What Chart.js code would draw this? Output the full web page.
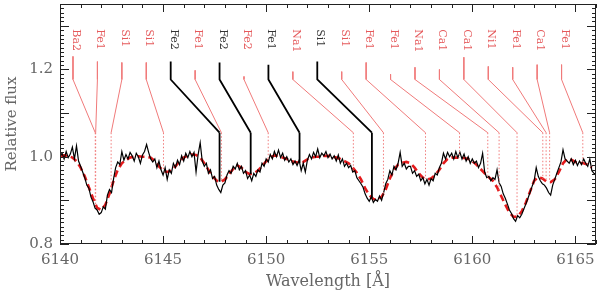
<!DOCTYPE html>
<html>
<head>
<meta charset="utf-8">
<script src="https://cdn.jsdelivr.net/npm/chart.js@4"></script>
<style>
  body { margin: 0; background: #fff; }
  canvas { display: block; }
</style>
</head>
<body>
<canvas id="chart" width="600" height="291"></canvas>
<script>
// observed spectrum, 0.1 A steps from 6140.0
const obsStart = 6140.0, obsStep = 0.1;
const obsFlux = [
  1.000, 1.008, 0.995, 1.012, 0.998, 1.006, 1.022, 0.995, 1.025, 0.990,
  0.978, 0.965, 0.952, 0.935, 0.928, 0.908, 0.897, 0.882, 0.878, 0.868,
  0.872, 0.885, 0.880, 0.912, 0.925, 0.918, 0.950, 0.975, 0.988, 0.982,
  1.012, 0.992, 1.005, 0.995, 1.010, 1.002, 0.990, 1.008, 1.000, 0.985,
  1.004, 1.012, 1.028, 1.010, 0.995, 0.988, 0.995, 0.975, 0.990, 0.970,
  0.958, 0.975, 0.948, 0.970, 0.962, 0.985, 0.975, 0.992, 0.982, 1.002,
  0.990, 1.008, 0.998, 1.012, 1.000, 1.010, 0.965, 1.005, 1.032, 0.990,
  0.978, 0.985, 0.962, 0.970, 0.950, 0.955, 0.935, 0.925, 0.918, 0.935,
  0.940, 0.958, 0.968, 0.962, 0.978, 0.972, 0.985, 0.970, 0.978, 0.962,
  0.968, 0.950, 0.958, 0.945, 0.962, 0.955, 0.970, 0.965, 0.985, 0.978,
  0.995, 0.988, 1.005, 0.995, 1.012, 1.000, 1.015, 0.998, 1.008, 0.992,
  1.000, 0.988, 0.995, 0.982, 0.990, 0.980, 0.992, 0.968, 0.985, 0.965,
  0.992, 1.005, 0.995, 1.010, 1.000, 1.018, 0.998, 1.008, 1.002, 1.012,
  0.998, 1.006, 0.995, 1.002, 0.990, 1.004, 0.985, 0.995, 0.978, 0.985,
  0.975, 0.980, 0.965, 0.968, 0.952, 0.945, 0.938, 0.930, 0.915, 0.905,
  0.898, 0.908, 0.895, 0.902, 0.898, 0.910, 0.900, 0.918, 0.938, 0.948,
  0.968, 0.958, 0.978, 0.970, 0.985, 1.010, 0.978, 0.985, 0.972, 0.978,
  0.978, 0.962, 0.968, 0.955, 0.960, 0.945, 0.952, 0.938, 0.948, 0.935,
  0.950, 0.945, 0.962, 0.958, 0.975, 0.985, 1.008, 0.995, 1.010, 1.000,
  1.008, 0.995, 1.012, 0.998, 1.010, 0.995, 1.006, 0.990, 1.000, 0.985,
  0.995, 0.985, 0.990, 0.975, 0.985, 1.008, 0.965, 0.952, 0.955, 0.945,
  0.952, 0.948, 0.970, 0.940, 0.932, 0.915, 0.905, 0.892, 0.878, 0.870,
  0.858, 0.852, 0.865, 0.860, 0.868, 0.880, 0.892, 0.905, 0.918, 0.932,
  0.945, 0.975, 0.955, 0.945, 0.938, 0.935, 0.928, 0.918, 0.912, 0.935,
  0.948, 0.962, 0.975, 0.988, 1.016, 0.995, 0.990, 0.985, 0.995, 0.982,
  0.992, 0.980, 0.990, 0.982, 0.995, 0.985, 0.978, 0.995, 0.968, 0.962,
  0.960
];

// synthetic fit, 0.2 A steps from 6140.0
const fitStart = 6140.0, fitStep = 0.2;
const fitFlux = [
  1.002, 1.003, 1.002, 0.998, 0.990,
  0.975, 0.955, 0.930, 0.905, 0.883,
  0.878, 0.890, 0.915, 0.945, 0.970,
  0.985, 0.993, 0.998, 1.000, 1.001,
  1.000, 1.000, 0.998, 0.990, 0.978,
  0.968, 0.965, 0.968, 0.978, 0.990,
  0.998, 1.003, 1.005, 1.004, 0.998,
  0.985, 0.970, 0.955, 0.945, 0.942,
  0.948, 0.960, 0.972, 0.980, 0.975,
  0.965, 0.960, 0.962, 0.968, 0.978,
  0.990, 0.998, 1.003, 1.002, 0.998,
  0.995, 0.990, 0.988, 0.986, 0.988,
  0.994, 0.998, 1.000, 1.000, 1.002,
  1.002, 1.000, 0.998, 0.995, 0.990,
  0.985, 0.975, 0.963, 0.948, 0.928,
  0.912, 0.903, 0.902, 0.908, 0.925,
  0.950, 0.970, 0.982, 0.986, 0.988,
  0.985, 0.975, 0.962, 0.952, 0.948,
  0.950, 0.958, 0.970, 0.985, 0.995,
  0.998, 0.998, 0.998, 0.997, 0.995,
  0.990, 0.982, 0.972, 0.962, 0.953,
  0.945, 0.930, 0.910, 0.890, 0.872,
  0.862, 0.863, 0.875, 0.895, 0.920,
  0.945, 0.953, 0.950, 0.943, 0.942,
  0.948, 0.965, 0.985, 0.995, 0.993,
  0.988, 0.986, 0.985, 0.982, 0.975
];

// line identifications
const lineNames = ['Ba2', 'Fe1', 'Si1', 'Si1', 'Fe2', 'Fe1', 'Fe2', 'Fe2', 'Fe1', 'Na1', 'Si1',
  'Si1', 'Fe1', 'Fe1', 'Na1', 'Ca1', 'Ca1', 'Ni1', 'Fe1', 'Ca1', 'Fe1'];
const lineWaves = [6141.71, 6141.73, 6142.48, 6145.02, 6147.74, 6147.83, 6149.25, 6150.10, 6151.62, 6154.23, 6155.13,
  6155.69, 6157.73, 6159.38, 6160.75, 6161.30, 6162.17, 6163.42, 6163.58, 6163.75, 6165.36];
const lineStrong = [0, 0, 0, 0, 1, 0, 1, 0, 1, 0, 1, 0, 0, 0, 0, 0, 0, 0, 0, 0, 0];
const stubTops = [1.230, 1.218, 1.216, 1.216, 1.218, 1.198, 1.216, 1.184, 1.211, 1.195, 1.218,
  1.195, 1.216, 1.189, 1.205, 1.200, 1.228, 1.207, 1.205, 1.211, 1.211];

const xTicks = [6140, 6145, 6150, 6155, 6160, 6165];
const yTicks = [0.8, 1.0, 1.2];

// label column layout (flux units / wavelength)
const labelFirst = 6140.63, labelGap = 1.185;
const labelTop = 1.292, kneeY = 1.177, footY = 1.055;

const RED_TXT = '#e55a5c';
const RED_LN = '#f07a7a';
const GRAY = '#666';
const FONT = '"DejaVu Serif", "Liberation Serif", serif';

function fitAt(w) {
    const p = (w - fitStart) / fitStep;
    const i = Math.max(0, Math.min(fitFlux.length - 2, Math.floor(p)));
    const t = p - i;
    return fitFlux[i] * (1 - t) + fitFlux[i + 1] * t;
}

const datasets = [];

lineWaves.forEach((w, i) => {
    const lx = labelFirst + i * labelGap;
    const strong = lineStrong[i] === 1;
    datasets.push({
        data: [{ x: lx, y: stubTops[i] }, { x: lx, y: kneeY }, { x: w, y: footY }],
        borderColor: strong ? '#000' : RED_LN,
        borderWidth: strong ? 1.8 : 1
    });
    datasets.push({
        data: [{ x: w, y: footY }, { x: w, y: fitAt(w) }],
        borderColor: strong ? '#000' : RED_LN,
        borderWidth: strong ? 1.8 : 1,
        borderDash: strong ? [] : [1.5, 2]
    });
});

datasets.push({
    data: obsFlux.map((f, i) => ({ x: obsStart + i * obsStep, y: f })),
    borderColor: '#000',
    borderWidth: 1.2
});
datasets.push({
    data: fitFlux.map((f, i) => ({ x: fitStart + i * fitStep, y: f })),
    borderColor: '#e41a1c',
    borderWidth: 2.6,
    borderDash: [7, 4]
});

// box, inward ticks on all four sides, and rotated line labels
const framePlugin = {
    id: 'frame',
    afterDatasetsDraw(chart) {
        const { ctx, chartArea: a, scales: { x, y } } = chart;
        ctx.save();
        ctx.strokeStyle = '#222';
        ctx.lineWidth = 1;
        ctx.strokeRect(a.left + 0.5, a.top + 0.5, a.right - a.left - 1, a.bottom - a.top - 1);

        ctx.beginPath();
        for (let w = Math.ceil(x.min); w <= x.max; w++) {
            const px = Math.round(x.getPixelForValue(w)) + 0.5;
            const len = w % 5 === 0 ? 8 : 4;
            ctx.moveTo(px, a.bottom); ctx.lineTo(px, a.bottom - len);
            ctx.moveTo(px, a.top); ctx.lineTo(px, a.top + len);
        }
        for (let k = Math.round(y.min * 100); k <= Math.round(y.max * 100); k++) {
            const py = Math.round(y.getPixelForValue(k / 100)) + 0.5;
            const len = k % 10 === 0 ? 9 : 4;
            ctx.moveTo(a.left, py); ctx.lineTo(a.left + len, py);
            ctx.moveTo(a.right, py); ctx.lineTo(a.right - len, py);
        }
        ctx.stroke();

        ctx.font = '11px ' + FONT;
        ctx.textAlign = 'left';
        ctx.textBaseline = 'alphabetic';
        lineNames.forEach((name, i) => {
            ctx.save();
            ctx.translate(x.getPixelForValue(labelFirst + i * labelGap), y.getPixelForValue(labelTop));
            ctx.rotate(Math.PI / 2);
            ctx.fillStyle = lineStrong[i] === 1 ? '#333' : RED_TXT;
            ctx.fillText(name, 0, 0);
            ctx.restore();
        });
        ctx.restore();
    }
};

new Chart(document.getElementById('chart'), {
    type: 'line',
    data: { datasets },
    options: {
        responsive: false,
        animation: false,
        devicePixelRatio: 1,
        layout: { padding: { top: 4, right: 4, left: 0, bottom: 0 } },
        plugins: { legend: { display: false }, tooltip: { enabled: false } },
        elements: { point: { radius: 0 }, line: { tension: 0, fill: false } },
        scales: {
            x: {
                type: 'linear',
                min: 6140,
                max: 6166,
                grid: { display: false, drawTicks: false },
                border: { display: false },
                afterBuildTicks: s => { s.ticks = xTicks.map(v => ({ value: v })); },
                afterFit: s => { s.height = 47; s.paddingLeft = 0; s.paddingRight = 0; },
                ticks: {
                    autoSkip: false, maxRotation: 0, padding: 7, color: GRAY,
                    font: { family: FONT, size: 15 },
                    callback: v => String(v)
                },
                title: {
                    display: true, text: 'Wavelength [Å]', color: GRAY,
                    font: { family: FONT, size: 16 }, padding: { top: 0, bottom: 0 }
                }
            },
            y: {
                min: 0.8,
                max: 1.35,
                grid: { display: false, drawTicks: false },
                border: { display: false },
                afterBuildTicks: s => { s.ticks = yTicks.map(v => ({ value: v })); },
                afterFit: s => { s.width = 60; s.paddingTop = 0; s.paddingBottom = 0; },
                ticks: {
                    padding: 7, color: GRAY,
                    font: { family: FONT, size: 15 },
                    callback: v => v.toFixed(1)
                },
                title: {
                    display: true, text: 'Relative flux', color: GRAY,
                    font: { family: FONT, size: 15 }, padding: { top: 3, bottom: 0 }
                }
            }
        }
    },
    plugins: [framePlugin]
});
</script>
</body>
</html>
